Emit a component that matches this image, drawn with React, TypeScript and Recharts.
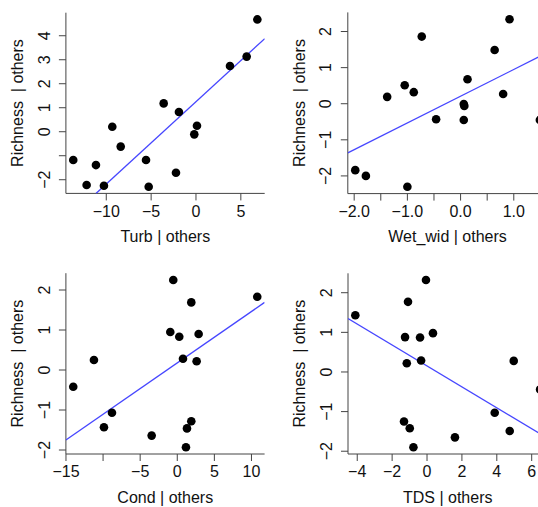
import { Scatter, ScatterChart, XAxis, YAxis } from "recharts";

const FONT = '"Liberation Sans", Arial, Helvetica, sans-serif';
const INK = "#111";
const AXIS = "#444";
const FIT = "#4646ff";
const Y_TITLE = "Richness  | others";

// Turb | others
const turbX = [-13.68, -12.19, -11.15, -10.26, -9.33, -8.39, -5.57, -5.27, -3.6, -2.23, -1.9, -0.19, 0.11, 3.79, 5.65, 6.84];
const turbY = [-1.18, -2.22, -1.39, -2.25, 0.21, -0.62, -1.18, -2.29, 1.18, -1.71, 0.82, -0.11, 0.25, 2.74, 3.13, 4.68];
const turbFitX = [-11.15, 7.66];
const turbFitY = [-2.57, 3.88];
const turbXTicks = [-10, -5, 0, 5];
const turbXLabels = ["−10", "−5", "0", "5"];
const turbYTicks = [-2, -1, 0, 1, 2, 3, 4];
const turbYLabels = ["−2", "", "0", "1", "2", "3", "4"];

// Wet_wid | others
const wetX = [-1.98, -1.78, -1.38, -1.05, -1.0, -0.88, -0.73, -0.46, 0.06, 0.07, 0.06, 0.13, 0.64, 0.8, 0.92, 1.49];
const wetY = [-1.84, -2.0, 0.19, 0.51, -2.3, 0.32, 1.86, -0.43, -0.01, -0.06, -0.45, 0.68, 1.49, 0.27, 2.34, -0.45];
const wetFitX = [-2.12, 1.63];
const wetFitY = [-1.36, 1.415];
const wetXTicks = [-2, -1.5, -1, -0.5, 0, 0.5, 1, 1.5];
const wetXLabels = ["−2.0", "", "−1.0", "", "0.0", "", "1.0", ""];
const wetYTicks = [-2, -1, 0, 1, 2];
const wetYLabels = ["−2", "−1", "0", "1", "2"];

// Cond | others
const condX = [-14.02, -11.23, -9.88, -8.8, -3.45, -0.94, -0.54, 0.27, 0.77, 1.17, 1.31, 1.89, 1.89, 2.61, 2.88, 10.78];
const condY = [-0.42, 0.25, -1.43, -1.07, -1.64, 0.95, 2.25, 0.83, 0.28, -1.93, -1.46, -1.28, 1.69, 0.22, 0.9, 1.83];
const condFitX = [-15.01, 11.77];
const condFitY = [-1.75, 1.69];
const condXTicks = [-15, -10, -5, 0, 5, 10];
const condXLabels = ["−15", "", "−5", "0", "5", "10"];
const condYTicks = [-2, -1, 0, 1, 2];
const condYLabels = ["−2", "−1", "0", "1", "2"];

// TDS | others
const tdsX = [-4.11, -1.26, -1.16, -1.32, -1.09, -0.99, -0.78, -0.4, -0.34, -0.06, 0.34, 1.6, 3.88, 4.74, 4.97, 6.48];
const tdsY = [1.43, 0.88, 0.22, -1.25, 1.77, -1.42, -1.9, 0.87, 0.29, 2.32, 0.98, -1.65, -1.03, -1.49, 0.28, -0.44];
const tdsFitX = [-4.53, 6.9];
const tdsFitY = [1.35, -1.67];
const tdsXTicks = [-4, -2, 0, 2, 4, 6];
const tdsXLabels = ["−4", "−2", "0", "2", "4", "6"];
const tdsYTicks = [-2, -1, 0, 1, 2];
const tdsYLabels = ["−2", "−1", "0", "1", "2"];

const zip = (xs: number[], ys: number[]) => xs.map((x, i) => ({ x, y: ys[i] }));

function XTitle({ viewBox, value }: any) {
  return (
    <text x={viewBox.x + viewBox.width / 2} y={viewBox.y + 48.7} textAnchor="middle" fontSize={16} fontFamily={FONT} fill={INK}>
      {value}
    </text>
  );
}

function YTitle({ viewBox }: any) {
  const x = viewBox.x + viewBox.width - 42.5;
  const y = viewBox.y + viewBox.height / 2;
  return (
    <text x={x} y={y} transform={`rotate(-90 ${x} ${y})`} textAnchor="middle" fontSize={16} fontFamily={FONT} fill={INK} style={{ whiteSpace: "pre" }}>
      {Y_TITLE}
    </text>
  );
}

function Dot({ cx, cy }: any) {
  return <circle cx={cx} cy={cy} r={4.3} fill="#000" />;
}

type PanelProps = {
  left: number;
  top: number;
  width: number;
  height: number;
  plot: { left: number; right: number; top: number; bottom: number };
  xs: number[];
  ys: number[];
  fitX: number[];
  fitY: number[];
  xDomain: [number, number];
  yDomain: [number, number];
  xTicks: number[];
  xLabels: string[];
  yTicks: number[];
  yLabels: string[];
  xTitle: string;
};

function AvPanel(p: PanelProps) {
  const xTick = ({ x, y, payload }: any) => (
    <text x={x} y={y + 16.3} textAnchor="middle" fontSize={16} fontFamily={FONT} fill={INK}>
      {p.xLabels[p.xTicks.indexOf(payload.value)]}
    </text>
  );
  const yTick = ({ x, y, payload }: any) => {
    const bx = x - 9.3;
    return (
      <text x={bx} y={y} transform={`rotate(-90 ${bx} ${y})`} textAnchor="middle" fontSize={16} fontFamily={FONT} fill={INK}>
        {p.yLabels[p.yTicks.indexOf(payload.value)]}
      </text>
    );
  };
  return (
    <div style={{ position: "absolute", left: p.left, top: p.top }}>
      <ScatterChart
        width={p.width}
        height={p.height}
        margin={{ top: p.plot.top, right: p.width - p.plot.right, bottom: 0, left: 0 }}
      >
        <XAxis
          type="number"
          dataKey="x"
          domain={p.xDomain}
          ticks={p.xTicks}
          interval={0}
          allowDataOverflow
          height={p.height - p.plot.bottom}
          tickSize={7}
          tickMargin={0}
          axisLine={{ stroke: AXIS }}
          tickLine={{ stroke: AXIS }}
          tick={xTick}
          label={<XTitle value={p.xTitle} />}
        />
        <YAxis
          type="number"
          dataKey="y"
          domain={p.yDomain}
          ticks={p.yTicks}
          interval={0}
          allowDataOverflow
          width={p.plot.left}
          tickSize={7}
          tickMargin={0}
          axisLine={{ stroke: AXIS }}
          tickLine={{ stroke: AXIS }}
          tick={yTick}
          label={<YTitle />}
        />
        <Scatter data={zip(p.fitX, p.fitY)} line={{ stroke: FIT, strokeWidth: 1.3 }} shape={() => <g />} isAnimationActive={false} />
        <Scatter data={zip(p.xs, p.ys)} shape={Dot} isAnimationActive={false} />
      </ScatterChart>
    </div>
  );
}

export default function App() {
  return (
    <div style={{ position: "absolute", left: 0, top: 0, width: 538, height: 507, overflow: "hidden", background: "#fff" }}>
      <AvPanel
        left={0} top={0} width={270} height={250}
        plot={{ left: 65.9, right: 264.7, top: 12.7, bottom: 193.4 }}
        xs={turbX} ys={turbY} fitX={turbFitX} fitY={turbFitY}
        xDomain={[-14.5, 7.66]} yDomain={[-2.57, 4.96]}
        xTicks={turbXTicks} xLabels={turbXLabels} yTicks={turbYTicks} yLabels={turbYLabels}
        xTitle="Turb | others"
      />
      <AvPanel
        left={268} top={0} width={290} height={250}
        plot={{ left: 79.8, right: 279.3, top: 12.4, bottom: 193.6 }}
        xs={wetX} ys={wetY} fitX={wetFitX} fitY={wetFitY}
        xDomain={[-2.12, 1.63]} yDomain={[-2.49, 2.53]}
        xTicks={wetXTicks} xLabels={wetXLabels} yTicks={wetYTicks} yLabels={wetYLabels}
        xTitle="Wet_wid | others"
      />
      <AvPanel
        left={0} top={250} width={270} height={257}
        plot={{ left: 65.9, right: 264.6, top: 23.2, bottom: 204 }}
        xs={condX} ys={condY} fitX={condFitX} fitY={condFitY}
        xDomain={[-15.01, 11.77]} yDomain={[-2.1, 2.42]}
        xTicks={condXTicks} xLabels={condXLabels} yTicks={condYTicks} yLabels={condYLabels}
        xTitle="Cond | others"
      />
      <AvPanel
        left={268} top={250} width={290} height={257}
        plot={{ left: 80, right: 279.4, top: 23.3, bottom: 204 }}
        xs={tdsX} ys={tdsY} fitX={tdsFitX} fitY={tdsFitY}
        xDomain={[-4.53, 6.9]} yDomain={[-2.07, 2.49]}
        xTicks={tdsXTicks} xLabels={tdsXLabels} yTicks={tdsYTicks} yLabels={tdsYLabels}
        xTitle="TDS | others"
      />
    </div>
  );
}
